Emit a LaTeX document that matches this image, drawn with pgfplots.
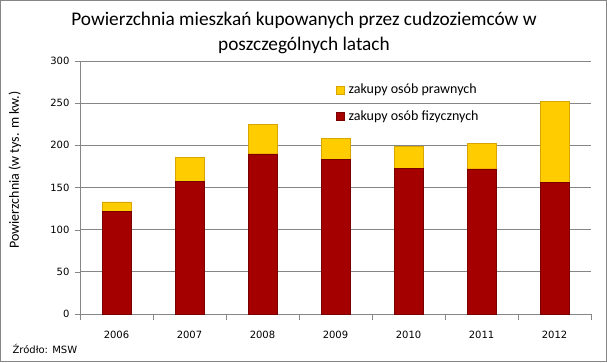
\documentclass[border=0pt]{standalone}
\usepackage{pgfplots}
\pgfplotsset{compat=1.18}
\usepackage{fontspec}
\setmainfont{Carlito}
\newfontfamily\tickfont{DejaVu Sans}
\definecolor{barred}{RGB}{165,0,0}
\definecolor{barreddark}{RGB}{120,0,0}
\definecolor{baryellow}{RGB}{255,204,0}
\definecolor{baryellowdark}{RGB}{215,165,0}
\definecolor{gridgray}{RGB}{134,134,134}
\begin{document}
\begin{tikzpicture}[x=1pt,y=1pt]
\path[use as bounding box] (0,0) rectangle (607,362);
\fill[white] (0,0) rectangle (607,362);
\begin{axis}[at={(80pt,48pt)}, anchor=south west, scale only axis,
  width=511pt, height=253pt,
  ybar stacked, bar width=29pt,
  xmin=-0.5, xmax=6.5, ymin=0, ymax=300,
  xtick={0,1,2,3,4,5,6},
  xticklabels={2006,2007,2008,2009,2010,2011,2012},
  minor xtick={-0.5,0.5,1.5,2.5,3.5,4.5,5.5,6.5},
  ytick={0,50,100,150,200,250,300},
  axis lines*=left,
  axis line style={-, gridgray},
  ymajorgrids, grid style={gridgray, line width=0.8pt},
  tick align=outside, major tick length=5pt, minor tick length=6pt,
  major x tick style={draw=none}, minor x tick style={gridgray},
  ytick style={gridgray},
  tick label style={font=\tickfont\fontsize{10}{12}\selectfont, text=black},
  /pgf/number format/assume math mode=true,
  xticklabel style={yshift=-9pt},
  yticklabel style={xshift=-2pt},
  reverse legend,
  legend style={at={(0.495,0.925)}, anchor=north west, draw=none, fill=none,
    font=\fontsize{14}{16}\selectfont, row sep=11pt, cells={anchor=west}},
  legend image code/.code={\draw[#1] (0pt,-4pt) rectangle (8pt,4pt);},
]
\addplot[fill=barred, draw=barreddark] coordinates
  {(0,122) (1,157) (2,190) (3,183) (4,173) (5,172) (6,156)};
\addplot[fill=baryellow, draw=baryellowdark] coordinates
  {(0,11) (1,29) (2,35) (3,25) (4,26) (5,30) (6,96)};
\legend{\hspace{2pt}zakupy osób fizycznych, \hspace{2pt}zakupy osób prawnych}
\end{axis}
\node[align=center, font=\fontsize{19.3}{25}\selectfont] at (304,329.5)
  {Powierzchnia mieszkań kupowanych przez cudzoziemców w\\poszczególnych latach};
\node[rotate=90, font=\fontsize{14}{16}\selectfont] at (15,192) {Powierzchnia (w tys. m kw.)};
\node[anchor=west, font=\tickfont\fontsize{10}{12}\selectfont] at (9,13) {Źródło: MSW};
\draw[gridgray, line width=1pt] (0.5,0.5) rectangle (606.5,361.5);
\end{tikzpicture}
\end{document}
